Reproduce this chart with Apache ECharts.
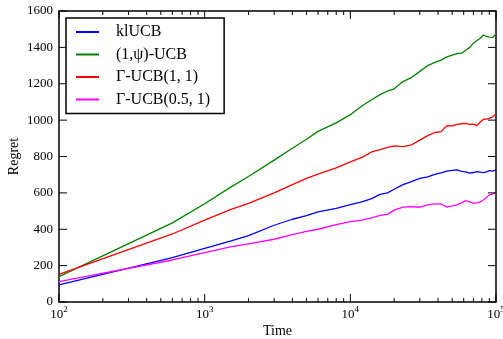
<!DOCTYPE html>
<html>
<head>
<meta charset="utf-8">
<script src="https://cdn.jsdelivr.net/npm/echarts@6/dist/echarts.min.js"></script>
<style>
    html, body { margin: 0; padding: 0; background: #fff; }
    #chart { width: 503px; height: 339px; }
</style>
</head>
<body>
<div id="chart"></div>
<script>
// time steps (x, log scale) shared by all series
const timeSteps = [100, 600, 1000, 1500, 2000, 3000, 4000, 5000, 6000, 8000,
    10000, 12000, 14000, 16000, 18000, 20000, 23000, 26000, 30000, 34000,
    38000, 42000, 46000, 50000, 54000, 58000, 62000, 66000, 70000, 74000,
    78000, 82000, 86000, 90000, 95000, 100000];

const klUCB = [94, 244, 295, 335, 365, 422, 455, 475, 495, 515,
    535, 550, 568, 592, 600, 620, 645, 660, 680, 688,
    702, 710, 720, 724, 726, 718, 716, 708, 712, 717,
    714, 711, 716, 722, 720, 726];

const psiUCB = [140, 435, 540, 630, 690, 780, 845, 895, 938, 985,
    1030, 1078, 1112, 1140, 1160, 1172, 1212, 1232, 1268, 1300,
    1318, 1330, 1348, 1358, 1366, 1368, 1384, 1400, 1423, 1438,
    1450, 1468, 1460, 1456, 1455, 1474];

const gammaUCB11 = [152, 374, 450, 508, 542, 600, 645, 680, 703, 738,
    770, 795, 825, 838, 850, 858, 854, 862, 890, 915,
    932, 937, 970, 968, 977, 980, 982, 976, 978, 970,
    990, 1005, 1006, 1010, 1018, 1034];

const gammaUCB051 = [112, 231, 271, 303, 320, 345, 370, 388, 400, 425,
    442, 450, 462, 476, 482, 505, 522, 524, 521, 534,
    539, 539, 522, 528, 534, 545, 557, 550, 543, 545,
    550, 561, 575, 589, 594, 600];

const seriesNames = ['klUCB', '(1,\u03C8)-UCB', '\u0393-UCB(1, 1)', '\u0393-UCB(0.5, 1)'];
const seriesColors = ['#0000ff', '#008000', '#ff0000', '#ff00ff'];
const seriesValues = [klUCB, psiUCB, gammaUCB11, gammaUCB051];

const X_MIN = 100;
const X_MAX = 100000;
const Y_MIN = 0;
const Y_MAX = 1600;
const yTicks = [0, 200, 400, 600, 800, 1000, 1200, 1400, 1600];
const majorTicks = [100, 1000, 10000, 100000];
const minorTicks = [];
for (let d = 100; d < 100000; d *= 10) {
    for (let k = 2; k <= 9; k++) minorTicks.push(d * k);
}

const FONT = '"Liberation Serif", "DejaVu Serif", serif';

// matplotlib-style inward ticks on all four sides; axisTick is unreliable here,
// so they are drawn by a custom series placed through the axes' own coords
const tickData = [
    ...yTicks.map((v) => [X_MIN, v, 0]),
    ...majorTicks.map((t) => [t, Y_MIN, 8]),
    ...minorTicks.map((t) => [t, Y_MIN, 4]),
];

const renderTick = (params, api) => {
    const kind = api.value(2);
    const style = { stroke: '#000', lineWidth: 1 };
    let a, b;
    if (kind === 0) {
        const v = api.value(1);
        a = api.coord([X_MIN, v]);
        b = api.coord([X_MAX, v]);
        return {
            type: 'group',
            children: [
                { type: 'line', shape: { x1: a[0], y1: a[1], x2: a[0] + 8, y2: a[1] }, style },
                { type: 'line', shape: { x1: b[0], y1: b[1], x2: b[0] - 8, y2: b[1] }, style },
            ],
        };
    }
    const t = api.value(0);
    a = api.coord([t, Y_MIN]);
    b = api.coord([t, Y_MAX]);
    return {
        type: 'group',
        children: [
            { type: 'line', shape: { x1: a[0], y1: a[1], x2: a[0], y2: a[1] - kind }, style },
            { type: 'line', shape: { x1: b[0], y1: b[1], x2: b[0], y2: b[1] + kind }, style },
        ],
    };
};

const chart = echarts.init(document.getElementById('chart'));

chart.setOption({
    animation: false,
    textStyle: { fontFamily: FONT, color: '#000' },
    grid: {
        left: 59,
        right: 7,
        top: 11,
        bottom: 37,
        outerBoundsMode: 'none',
        containLabel: false,
        show: true,
        borderColor: '#000',
        borderWidth: 1.5,
    },
    legend: {
        orient: 'vertical',
        left: 66,
        top: 18,
        padding: [6, 14, 6, 10],
        itemGap: 6.5,
        itemWidth: 23,
        itemHeight: 2,
        icon: 'rect',
        borderColor: '#000',
        borderWidth: 1.5,
        borderRadius: 0,
        textStyle: {
            fontFamily: FONT,
            fontSize: 16,
            color: '#000',
            padding: [0, 0, 0, 12],
        },
        data: seriesNames,
    },
    xAxis: {
        type: 'log',
        logBase: 10,
        min: X_MIN,
        max: X_MAX,
        position: 'bottom',
        splitLine: { show: false },
        axisLine: { show: false, onZero: false },
        axisTick: { show: false },
        name: 'Time',
        nameLocation: 'middle',
        nameGap: 22,
        nameMoveOverlap: false,
        nameTextStyle: { fontFamily: FONT, fontSize: 14, color: '#000' },
        axisLabel: {
            show: true,
            margin: 3,
            customValues: majorTicks,
            formatter: (v) => '{b|10}{s|' + Math.round(Math.log10(v)) + '}',
            rich: {
                b: { fontFamily: FONT, fontSize: 13, lineHeight: 16, color: '#000', verticalAlign: 'bottom' },
                s: { fontFamily: FONT, fontSize: 9, lineHeight: 10, color: '#000', verticalAlign: 'top' },
            },
        },
    },
    yAxis: {
        type: 'value',
        min: Y_MIN,
        max: Y_MAX,
        interval: 200,
        position: 'left',
        splitLine: { show: false },
        axisLine: { show: false, onZero: false },
        axisTick: { show: false },
        name: 'Regret',
        nameLocation: 'middle',
        nameGap: 38,
        nameMoveOverlap: false,
        nameTextStyle: { fontFamily: FONT, fontSize: 14, color: '#000' },
        axisLabel: { show: true, margin: 6, fontFamily: FONT, fontSize: 13, color: '#000', formatter: (v) => String(v) },
    },
    series: [
        ...seriesNames.map((name, i) => ({
            name,
            type: 'line',
            showSymbol: false,
            symbol: 'none',
            color: seriesColors[i],
            lineStyle: { width: 1.3, color: seriesColors[i] },
            data: timeSteps.map((t, j) => [t, seriesValues[i][j]]),
        })),
        {
            name: 'ticks',
            type: 'custom',
            clip: false,
            silent: true,
            z: 5,
            renderItem: renderTick,
            data: tickData,
        },
    ],
});
</script>
</body>
</html>
